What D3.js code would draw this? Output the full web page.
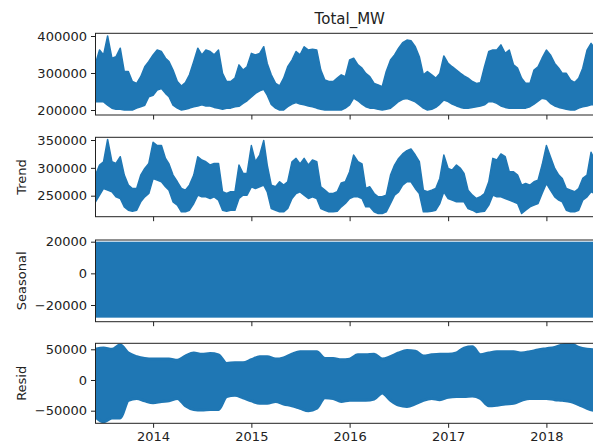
<!DOCTYPE html>
<html>
<head>
<meta charset="utf-8">
<script src="https://cdn.jsdelivr.net/npm/d3@7"></script>
<style>
  body { margin: 0; background: #fff; }
  text { font-family: "DejaVu Sans", sans-serif; fill: #222; }
</style>
</head>
<body>
<svg id="chart" width="593" height="445"></svg>
<script>
// observed + trend, sampled on the 1st and 16th of each month, Jun 2013 - Jul 2018 (thousand MW)
var obsHigh = [326,362,349,400,340,344,367,304,304,277,
  272,290,317,331,349,362,358,340,331,308,
  277,265,274,295,331,367,349,362,358,349,
  362,299,277,277,286,322,308,317,353,349,
  353,371,326,295,272,265,286,317,335,358,
  349,371,362,364,362,308,281,277,277,286,
  295,290,335,340,322,313,299,290,272,268,
  263,304,335,349,367,382,389,387,371,344,
  295,304,295,286,299,346,326,317,308,299,
  292,286,277,272,274,317,358,362,362,376,
  353,362,322,313,286,272,272,308,317,340,
  362,349,326,313,299,299,281,274,286,313,
  362,380,365,355];
var obsLow = [222,222,222,213,205,202,202,200,200,200,
  205,209,213,236,240,254,258,245,236,213,
  205,200,202,205,209,211,214,211,211,207,
  205,202,205,205,209,210,218,225,235,245,
  252,256,240,215,205,200,200,209,216,220,
  216,214,211,209,205,202,200,200,200,200,
  200,205,214,232,225,216,209,205,205,202,
  200,202,205,214,223,229,231,227,222,214,
  205,200,202,207,216,227,223,216,211,207,
  205,205,207,209,211,214,223,222,218,211,
  207,205,205,205,205,205,209,216,224,232,
  229,218,211,207,205,202,200,200,205,209,
  211,214,214,211];
var trendHigh = [287,305,311,351,311,308,320,287,269,263,
  263,287,299,308,346,340,340,317,307,287,
  275,263,260,269,287,320,314,311,305,308,
  308,257,254,257,257,305,290,290,340,311,
  323,349,305,269,266,275,269,275,311,317,
  307,317,305,314,311,266,260,254,254,257,
  273,275,293,323,311,307,263,266,254,248,
  248,251,287,305,317,325,331,334,323,311,
  260,257,260,263,281,323,299,296,305,299,
  290,260,251,245,248,254,275,317,314,325,
  320,293,293,287,269,272,269,275,278,305,
  340,320,299,287,281,263,260,257,263,281,
  287,328,311,317];
var trendLow = [239,251,263,260,257,248,245,230,224,222,
  224,239,248,254,281,278,275,266,260,239,
  233,221,221,224,236,251,248,248,245,248,
  242,224,222,224,224,245,251,251,266,263,
  266,269,257,227,224,221,221,227,245,254,
  257,251,245,248,245,227,224,221,221,222,
  230,236,245,248,248,245,230,230,221,218,
  218,221,236,251,257,269,275,275,263,254,
  221,221,222,224,236,257,245,242,239,239,
  239,227,224,220,221,222,233,251,248,248,
  245,242,239,236,218,224,230,233,236,254,
  272,260,248,242,239,224,221,221,224,242,
  248,257,254,254];

// seasonal component: daily cycle, only its extent is visible
var seasonalRange = [-28000, 20000];

// residual envelope, monthly, Jun 2013 - Aug 2018 (thousand MW)
var residHigh = [50,52,50,57,44,38,35,34,34,34,32,39,44,42,43,41,27,28,28,33,38,38,34,36,42,
  46,46,46,35,35,33,34,41,41,42,34,38,44,48,47,39,41,42,42,44,52,54,41,44,46,46,46,44,46,49,
  51,53,57,59,53,50,49,49];
var residLow = [-60,-68,-62,-62,-33,-30,-34,-37,-35,-34,-30,-42,-48,-49,-48,-48,-27,-25,-29,-34,
  -38,-38,-35,-39,-42,-46,-50,-46,-29,-30,-35,-33,-33,-33,-31,-21,-33,-41,-43,-39,-33,-30,-32,
  -28,-27,-27,-26,-30,-42,-41,-39,-38,-33,-30,-30,-30,-32,-33,-35,-40,-46,-50,-52];

var yearTicks = [2014, 2015, 2016, 2017, 2018];
var obsTicks = [200000, 300000, 400000];
var trendTicks = [250000, 300000, 350000];
var seasonalTicks = [-20000, 0, 20000];
var residTicks = [-50000, 0, 50000];

var halfMonths = [];
d3.timeMonth.range(new Date(2013, 5, 1), new Date(2018, 7, 1)).forEach(function(m) {
  halfMonths.push(m, new Date(m.getFullYear(), m.getMonth(), 16));
});
var months = d3.timeMonth.range(new Date(2013, 5, 1), new Date(2018, 7, 2));

var svg = d3.select('#chart');
var blue = '#1f77b4';

var x = d3.scaleTime()
  .domain([new Date(2013, 5, 1), new Date(2018, 7, 3)])
  .range([95.5, 604]);

var panels = [
  { top: 33.3, bottom: 115, domain: [186500, 407300], ticks: obsTicks, label: null },
  { top: 137.3, bottom: 216.7, domain: [212300, 354850], ticks: trendTicks, label: 'Trend' },
  { top: 240, bottom: 321.7, domain: [-30550, 21070], ticks: seasonalTicks, label: 'Seasonal' },
  { top: 343.3, bottom: 423.3, domain: [-70520, 59770], ticks: residTicks, label: 'Resid' }
];

panels.forEach(function(p, i) {
  p.y = d3.scaleLinear().domain(p.domain).range([p.bottom, p.top]);
  var g = svg.append('g').attr('class', 'panel');

  g.append('clipPath').attr('id', 'clip' + i)
    .append('rect')
    .attr('x', x.range()[0]).attr('y', p.top)
    .attr('width', x.range()[1] - x.range()[0]).attr('height', p.bottom - p.top);

  p.plot = g.append('g').attr('clip-path', 'url(#clip' + i + ')');

  var yAxis = g.append('g')
    .attr('transform', 'translate(' + x.range()[0] + ',0)')
    .call(d3.axisLeft(p.y).tickValues(p.ticks).tickFormat(d3.format('d')).tickSize(4.5).tickPadding(4));
  yAxis.select('.domain').remove();
  yAxis.selectAll('line').attr('stroke', '#222');
  yAxis.selectAll('text').attr('font-size', 13).attr('font-family', 'DejaVu Sans').attr('fill', '#222');

  var xAxis = g.append('g')
    .attr('transform', 'translate(0,' + p.bottom + ')')
    .call(d3.axisBottom(x)
      .tickValues(yearTicks.map(function(yr) { return new Date(yr, 0, 1); }))
      .tickFormat(i === 3 ? d3.timeFormat('%Y') : function() { return ''; })
      .tickSize(4.5).tickPadding(4));
  xAxis.select('.domain').remove();
  xAxis.selectAll('line').attr('stroke', '#222');
  xAxis.selectAll('text').attr('font-size', 13).attr('font-family', 'DejaVu Sans').attr('fill', '#222');

  p.frame = g;

  if (p.label) {
    g.append('text')
      .attr('transform', 'translate(25.5,' + (p.top + p.bottom) / 2 + ') rotate(-90)')
      .attr('text-anchor', 'middle')
      .attr('font-size', 13)
      .text(p.label);
  }
});

// observed: dense hourly line, drawn as its min/max envelope
var obsArea = d3.area()
  .x(function(d, i) { return x(halfMonths[i]); })
  .y0(function(d, i) { return panels[0].y(obsLow[i] * 1000); })
  .y1(function(d) { return panels[0].y(d * 1000); });
panels[0].plot.append('path')
  .datum(obsHigh)
  .attr('d', obsArea)
  .attr('fill', blue)
  .attr('stroke', blue)
  .attr('stroke-width', 1.5)
  .attr('stroke-linejoin', 'round');

// trend envelope
var trendArea = d3.area()
  .x(function(d, i) { return x(halfMonths[i]); })
  .y0(function(d, i) { return panels[1].y(trendLow[i] * 1000); })
  .y1(function(d) { return panels[1].y(d * 1000); });
panels[1].plot.append('path')
  .datum(trendHigh)
  .attr('d', trendArea)
  .attr('fill', blue)
  .attr('stroke', blue)
  .attr('stroke-width', 1.5)
  .attr('stroke-linejoin', 'round');

// seasonal
panels[2].plot.append('rect')
  .attr('x', x(new Date(2013, 5, 1)))
  .attr('width', x(new Date(2018, 7, 3)) - x(new Date(2013, 5, 1)))
  .attr('y', panels[2].y(seasonalRange[1]))
  .attr('height', panels[2].y(seasonalRange[0]) - panels[2].y(seasonalRange[1]))
  .attr('fill', blue);

// resid
var residArea = d3.area()
  .curve(d3.curveMonotoneX)
  .x(function(d, i) { return x(months[i]); })
  .y0(function(d, i) { return panels[3].y(residLow[i] * 1000); })
  .y1(function(d) { return panels[3].y(d * 1000); });
panels[3].plot.append('path')
  .datum(residHigh)
  .attr('d', residArea)
  .attr('fill', blue)
  .attr('stroke', blue)
  .attr('stroke-width', 3)
  .attr('stroke-linejoin', 'round');

// frames on top
panels.forEach(function(p) {
  p.frame.append('rect')
    .attr('x', x.range()[0]).attr('y', p.top)
    .attr('width', x.range()[1] - x.range()[0]).attr('height', p.bottom - p.top)
    .attr('fill', 'none').attr('stroke', '#222').attr('stroke-width', 1);
});

svg.append('text')
  .attr('x', (x.range()[0] + x.range()[1]) / 2)
  .attr('y', 24)
  .attr('text-anchor', 'middle')
  .attr('font-size', 15)
  .text('Total_MW');
</script>
</body>
</html>
